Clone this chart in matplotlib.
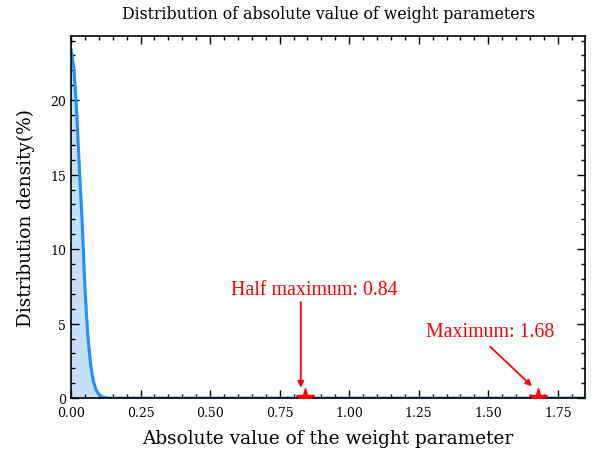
import matplotlib
matplotlib.use("Agg")
import matplotlib.pyplot as plt
from matplotlib.ticker import MultipleLocator

# Data
x_vals = [0.000, 0.010, 0.020, 0.030, 0.040, 0.050, 0.060, 0.070, 0.080,
          0.090, 0.100, 0.110, 0.120, 0.130, 0.140, 0.160, 0.200, 0.500,
          1.000, 1.500, 1.848]
density = [23.4, 22.2, 19.3, 15.4, 11.8, 7.4, 4.3, 2.3, 1.15,
           0.55, 0.25, 0.10, 0.04, 0.015, 0.0, 0.0, 0.0, 0.0,
           0.0, 0.0, 0.0]
half_max = 0.84
maximum = 1.68
title = "Distribution of absolute value of weight parameters"
xlabel = "Absolute value of the weight parameter"
ylabel = "Distribution density(%)"

plt.rcParams['font.family'] = ['DejaVu Serif']

fig = plt.figure(figsize=(5.97, 4.52), dpi=100)
ax = fig.add_axes([0.119, 0.117, 0.861, 0.801])

ax.fill_between(x_vals, density, 0, color='#c6e0fb', alpha=1.0, zorder=1)
ax.plot(x_vals, density, color='#1E90FF', lw=2.2, zorder=2)

ax.plot([half_max, maximum], [0, 0], linestyle='none', marker='*',
        color='red', markersize=14, zorder=3, clip_on=True)

ann_font = dict(family='Liberation Serif', size=14.3, color='red')
ax.text(0.875, 7.3, f"Half maximum: {half_max}", ha='center', va='center',
        **ann_font)
ax.annotate("", xy=(0.826, 0.7), xytext=(0.826, 6.45),
            arrowprops=dict(arrowstyle='-|>', color='red', lw=1.3,
                            mutation_scale=9, shrinkA=0, shrinkB=0))
ax.text(1.507, 4.45, f"Maximum: {maximum}", ha='center', va='center',
        **ann_font)
ax.annotate("", xy=(1.657, 0.8), xytext=(1.507, 3.45),
            arrowprops=dict(arrowstyle='-|>', color='red', lw=1.3,
                            mutation_scale=9, shrinkA=0, shrinkB=0))

ax.set_xlim(0, 1.848)
ax.set_ylim(0, 24.3)
ax.xaxis.set_major_locator(MultipleLocator(0.25))
ax.xaxis.set_minor_locator(MultipleLocator(0.05))
ax.yaxis.set_major_locator(MultipleLocator(5))
ax.yaxis.set_minor_locator(MultipleLocator(1))
ax.tick_params(which='both', direction='in', top=True, right=True,
               labelsize=9, width=1.0)
ax.tick_params(axis='x', which='major', pad=6)
ax.tick_params(which='major', length=6)
ax.tick_params(which='minor', length=3)
for s in ax.spines.values():
    s.set_linewidth(1.2)

ax.set_title(title, fontsize=11.3, pad=13)
ax.set_xlabel(xlabel, fontsize=13.3, labelpad=7)
ax.set_ylabel(ylabel, fontsize=13.3, labelpad=11)

fig.savefig("out.png", dpi=100)
